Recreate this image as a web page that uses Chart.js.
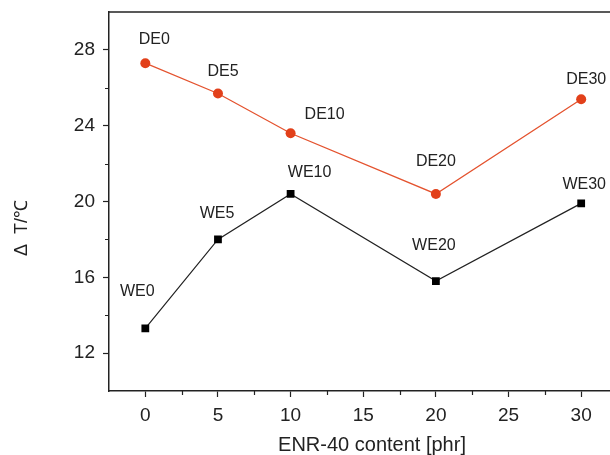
<!DOCTYPE html>
<html>
<head>
<meta charset="utf-8">
<script src="https://cdn.jsdelivr.net/npm/chart.js@4/dist/chart.umd.min.js"></script>
<style>
html,body{margin:0;padding:0;background:#fff;overflow:hidden;width:610px;height:455px;}
canvas{display:block;}
</style>
</head>
<body>
<canvas id="c" width="623" height="455" style="width:623px;height:455px"></canvas>
<script>
const contents = [0, 5, 10, 20, 30];
const deValues = [27.3, 25.7, 23.6, 20.4, 25.4];
const weValues = [13.3, 18.0, 20.4, 15.8, 19.9];
const deLabels = ['DE0', 'DE5', 'DE10', 'DE20', 'DE30'];
const weLabels = ['WE0', 'WE5', 'WE10', 'WE20', 'WE30'];
const xTicks = [0, 5, 10, 15, 20, 25, 30];
const yTicks = [12, 16, 20, 24, 28];
const xMinorTicks = [2.5, 7.5, 12.5, 17.5, 22.5, 27.5];
const yMinorTicks = [14, 18, 22, 26];
const xTitle = 'ENR-40 content [phr]';
const yTitle = 'Δ  T/℃';

// label offsets (pixels, styling only)
const deOffsets = [[9, -24], [5, -22], [34, -19], [0, -32], [5, -20]];
const weOffsets = [[-8, -37], [-1, -26], [19, -21], [-2, -35], [3, -19]];

const FONT = '"Liberation Sans", Arial, sans-serif';
const AXIS = '#222';

function noPad(s) { s.paddingTop = 0; s.paddingBottom = 0; s.paddingLeft = 0; s.paddingRight = 0; }

const decor = {
  id: 'decor',
  afterDraw(chart) {
    const ctx = chart.ctx;
    const xs = chart.scales.x, ys = chart.scales.y;
    const a = chart.chartArea;
    ctx.save();
    // top border
    ctx.strokeStyle = AXIS;
    ctx.lineWidth = 1.5;
    ctx.beginPath();
    ctx.moveTo(a.left, a.top);
    ctx.lineTo(a.right, a.top);
    ctx.stroke();
    // minor ticks
    ctx.lineWidth = 1.2;
    ctx.beginPath();
    xMinorTicks.forEach(v => {
      const px = Math.round(xs.getPixelForValue(v)) + 0.5;
      ctx.moveTo(px, a.bottom);
      ctx.lineTo(px, a.bottom + 4);
    });
    yMinorTicks.forEach(v => {
      const py = Math.round(ys.getPixelForValue(v)) + 0.5;
      ctx.moveTo(a.left, py);
      ctx.lineTo(a.left - 4, py);
    });
    ctx.stroke();
    // point labels
    ctx.fillStyle = '#222';
    ctx.font = '16px ' + FONT;
    ctx.textAlign = 'center';
    ctx.textBaseline = 'middle';
    contents.forEach((c, i) => {
      const px = xs.getPixelForValue(c);
      ctx.fillText(deLabels[i], px + deOffsets[i][0], ys.getPixelForValue(deValues[i]) + deOffsets[i][1]);
      ctx.fillText(weLabels[i], px + weOffsets[i][0], ys.getPixelForValue(weValues[i]) + weOffsets[i][1]);
    });
    // x title
    ctx.font = '20px ' + FONT;
    ctx.fillText(xTitle, 372, 445);
    // y title
    ctx.translate(22, 228);
    ctx.rotate(-Math.PI / 2);
    ctx.font = '18px ' + FONT;
    ctx.fillText(yTitle, 0, 0);
    ctx.restore();
  }
};

new Chart(document.getElementById('c'), {
  type: 'line',
  data: {
    datasets: [
      {
        label: 'DE',
        data: contents.map((c, i) => ({ x: c, y: deValues[i] })),
        borderColor: '#e4532f',
        backgroundColor: '#e2401a',
        pointBackgroundColor: '#e2401a',
        pointBorderColor: '#e2401a',
        borderWidth: 1.3,
        pointStyle: 'circle',
        pointRadius: 5,
        pointBorderWidth: 0,
        tension: 0
      },
      {
        label: 'WE',
        data: contents.map((c, i) => ({ x: c, y: weValues[i] })),
        borderColor: '#222',
        backgroundColor: '#000',
        pointBackgroundColor: '#000',
        pointBorderColor: '#000',
        borderWidth: 1.2,
        pointStyle: 'rect',
        pointRadius: 5.5,
        pointBorderWidth: 0,
        tension: 0
      }
    ]
  },
  options: {
    responsive: false,
    animation: false,
    layout: { padding: { left: 0, top: 12, right: 0.5, bottom: 0 } },
    plugins: { legend: { display: false }, tooltip: { enabled: false } },
    scales: {
      x: {
        type: 'linear',
        min: -2.5,
        max: 32.5,
        afterBuildTicks(s) { s.ticks = xTicks.map(v => ({ value: v })); },
        afterFit(s) { s.height = 64; noPad(s); },
        border: { display: true, color: AXIS, width: 1.5 },
        grid: { drawOnChartArea: false, drawTicks: true, tickLength: 6, tickColor: AXIS, tickWidth: 1.2 },
        ticks: { color: '#222', font: { family: FONT, size: 19 }, padding: 7, maxRotation: 0, autoSkip: false }
      },
      y: {
        type: 'linear',
        min: 10,
        max: 30,
        afterBuildTicks(s) { s.ticks = yTicks.map(v => ({ value: v })); },
        afterFit(s) { s.width = 109; noPad(s); },
        border: { display: true, color: AXIS, width: 1.5 },
        grid: { drawOnChartArea: false, drawTicks: true, tickLength: 6, tickColor: AXIS, tickWidth: 1.2 },
        ticks: { color: '#222', font: { family: FONT, size: 19 }, padding: 8 }
      }
    }
  },
  plugins: [decor]
});
</script>
</body>
</html>
